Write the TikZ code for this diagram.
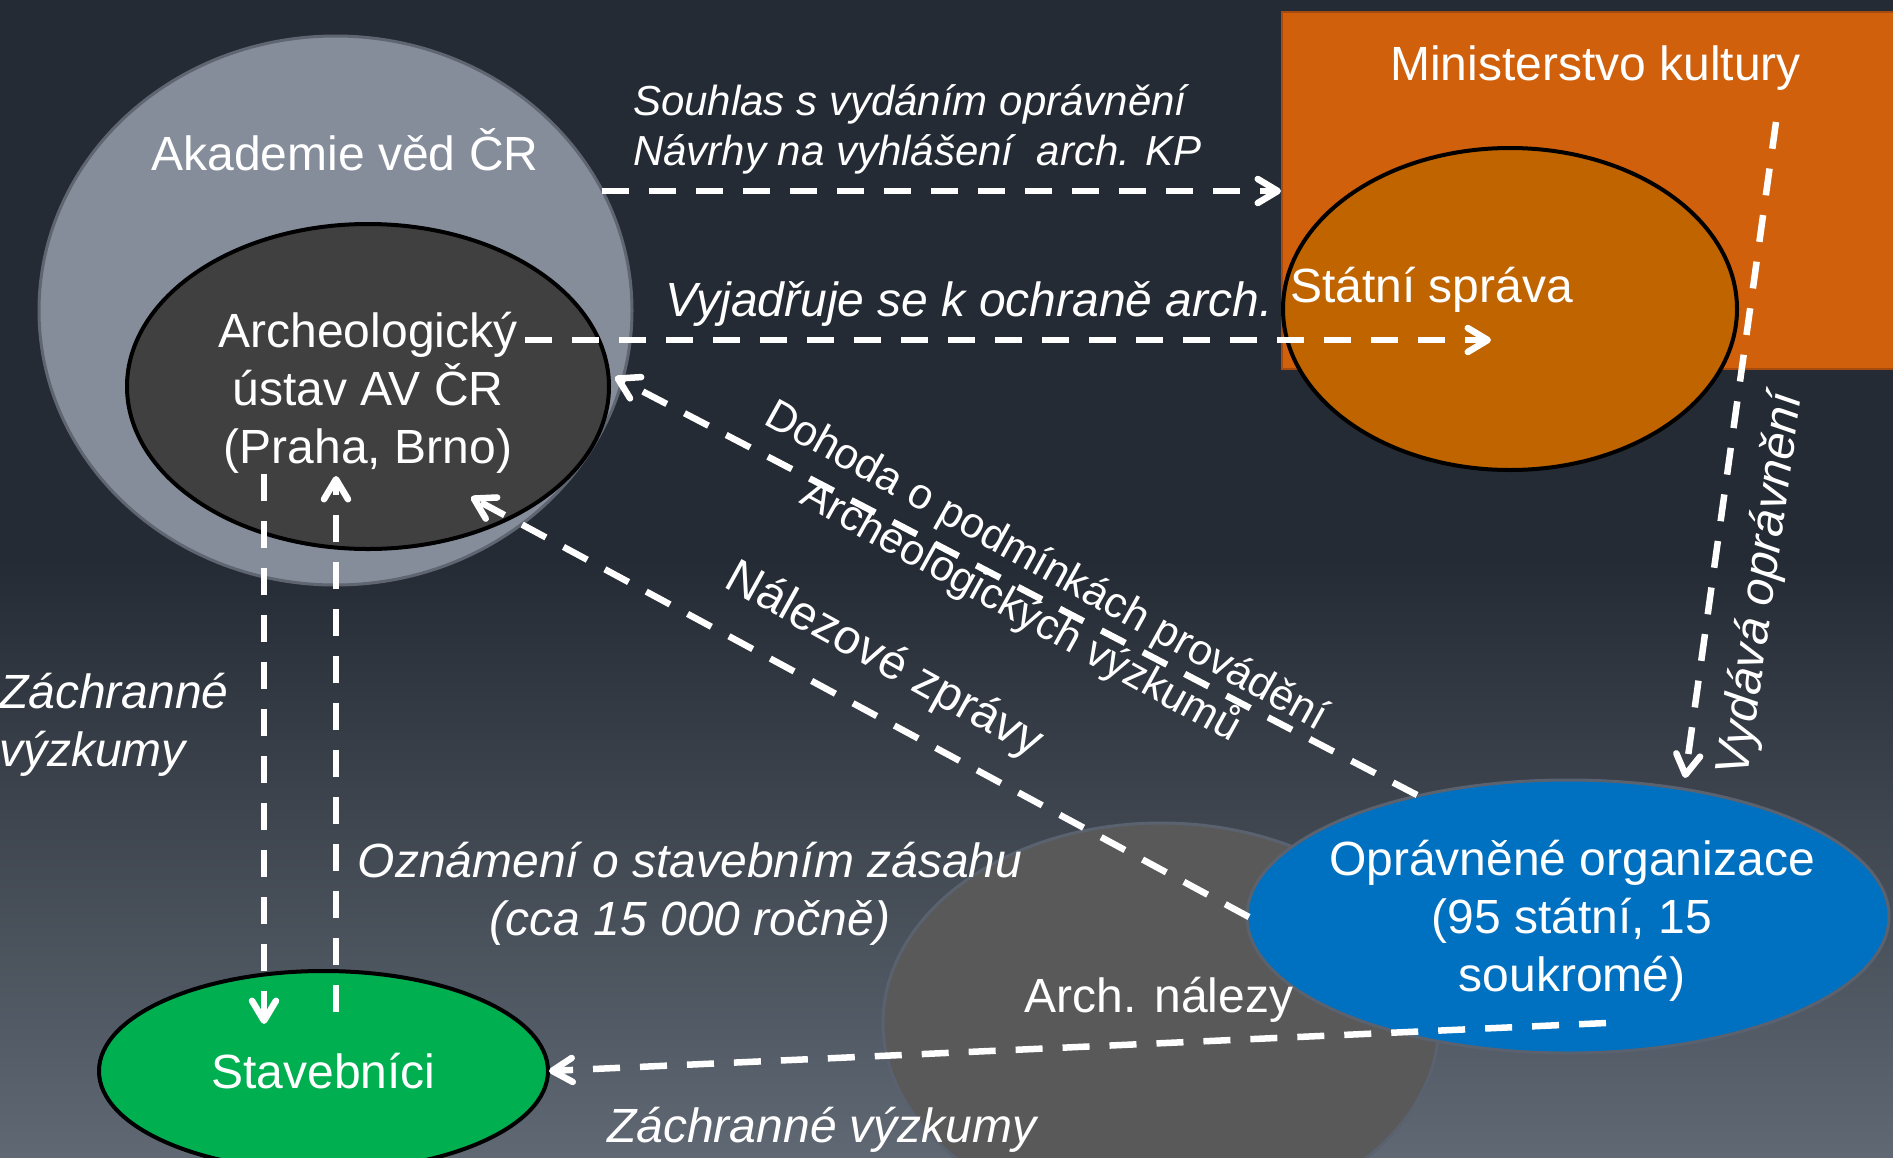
\documentclass[tikz,border=0pt]{standalone}
\usepackage{fontspec}
\setmainfont{Liberation Sans}
\usetikzlibrary{shapes.geometric,arrows.meta}
\definecolor{bgtop}{RGB}{37,43,52}
\definecolor{bgbot}{RGB}{95,104,115}
\definecolor{akafill}{RGB}{133,141,155}
\definecolor{akaline}{RGB}{95,102,114}
\definecolor{auifill}{RGB}{64,64,64}
\definecolor{mkfill}{RGB}{208,96,12}
\definecolor{mkline}{RGB}{165,75,15}
\definecolor{ssfill}{RGB}{192,100,0}
\definecolor{anfill}{RGB}{89,89,89}
\definecolor{edgegray}{RGB}{90,98,112}
\definecolor{oofill}{RGB}{0,112,192}
\definecolor{stfill}{RGB}{0,176,80}
\begin{document}
\begin{tikzpicture}[x=1pt,y=-1pt,
  blob/.style={ellipse, inner sep=0pt, outer sep=0pt},
  lbl/.style={text=white, inner sep=0pt, font=\fontsize{48}{58}\selectfont},
  ilbl/.style={text=white, inner sep=0pt, font=\fontsize{48}{58}\selectfont\itshape},
  flow/.style={draw=white, line width=6.5pt, dash pattern=on 27pt off 20pt,
    -{Straight Barb[round,length=20pt,width=24pt]}},
]
\useasboundingbox (0,0) rectangle (1893,1157);
\clip (0,0) rectangle (1893,1157);
\fill[bgtop] (0,0) rectangle (1893,1157);
\shade[top color=bgtop, bottom color=bgbot] (0,560) rectangle (1893,1157);

% shapes
\node[blob, minimum width=593pt, minimum height=549pt, fill=akafill, draw=akaline, line width=3pt] (aka) at (335.5,310.5) {};
\node[blob, minimum width=482pt, minimum height=325pt, fill=auifill, draw=black, line width=4pt] (aui) at (368,386.5) {};
\node[rectangle, minimum width=640pt, minimum height=357pt, inner sep=0pt, fill=mkfill, draw=mkline, line width=2pt, anchor=north west] (mk) at (1281,11) {};
\node[blob, minimum width=454pt, minimum height=322pt, fill=ssfill, draw=black, line width=4pt] (ss) at (1510,309) {};
\node[blob, minimum width=556pt, minimum height=400pt, fill=anfill, draw=edgegray, line width=3pt] (an) at (1161,1023) {};
\node[blob, minimum width=642pt, minimum height=273pt, fill=oofill, draw=edgegray, line width=3pt] (oo) at (1568,916.5) {};
\node[blob, minimum width=449pt, minimum height=200pt, fill=stfill, draw=black, line width=4pt] (st) at (323.5,1071) {};

% connector ends
\coordinate (a1s) at (602,191);
\coordinate (a1e) at (a1s -| mk.west);
\coordinate (a2s) at (525,340);
\coordinate (a2e) at (1491,340);
\coordinate (a3s) at (1417,795);
\coordinate (a3e) at (615,377);
\coordinate (a4s) at (1249,917);
\coordinate (a4e) at (471,497);
\coordinate (a5s) at (1776,122);
\coordinate (a5e) at (1685,778);
\coordinate (a6s) at (264,474);
\coordinate (a6e) at (264,1024);
\coordinate (a7s) at (336,1012);
\coordinate (a7e) at (336,476);
\coordinate (a8s) at (1606,1023);
\coordinate (a8e) at (549,1071);

% connectors
\draw[flow] (a1s) -- (a1e);
\draw[flow] (a2s) -- (a2e);
\draw[flow] (a3s) -- (a3e);
\draw[flow] (a4s) -- (a4e);
\draw[flow] (a5s) -- (a5e);
\draw[flow] (a6s) -- (a6e);
\draw[flow] (a7s) -- (a7e);
\draw[flow] (a8s) -- (a8e);

% node texts
\node[lbl, anchor=base] (takad) at (345,170) {Akademie věd ČR};
\node[lbl, align=center] (taui) at (368,393) {Archeologický\\ústav AV ČR\\(Praha, Brno)};
\node[lbl, anchor=base] (tmk) at (1595.5,80) {Ministerstvo kultury};
\node[lbl, anchor=base west] (tss) at (1290,302) {Státní správa};
\node[lbl, anchor=base] (tan) at (1159,1012) {Arch. nálezy};
\node[lbl, align=center] (too) at (1572,921) {Oprávněné organizace\\(95 státní, 15\\soukromé)};
\node[lbl, anchor=base] (tst) at (323.5,1088) {Stavebníci};

% connector labels
\node[ilbl, font=\fontsize{42}{50}\selectfont\itshape, align=left, anchor=west] (l1) at (633,129) {Souhlas s vydáním oprávnění\\Návrhy na vyhlášení~ arch. KP};
\node[ilbl, anchor=base west] (l2) at (665,316) {Vyjadřuje se k ochraně arch.};
\node[lbl, font=\fontsize{43}{52}\selectfont, align=center, rotate=-29] (l3) at (1033,590) {Dohoda o podmínkách provádění\\Archeologických výzkumů};
\node[lbl, rotate=-29] (l4) at (884,661) {Nálezové zprávy};
\node[ilbl, rotate=82] (l5) at (1762,585) {Vydává oprávnění};
\node[ilbl, align=left, anchor=west] (l6) at (-1,725) {Záchranné\\výzkumy};
\node[ilbl, align=center] (l7) at (690,894) {Oznámení o stavebním zásahu\\(cca 15 000 ročně)};
\node[ilbl, anchor=base] (l8) at (822,1142) {Záchranné výzkumy};
\end{tikzpicture}
\end{document}
